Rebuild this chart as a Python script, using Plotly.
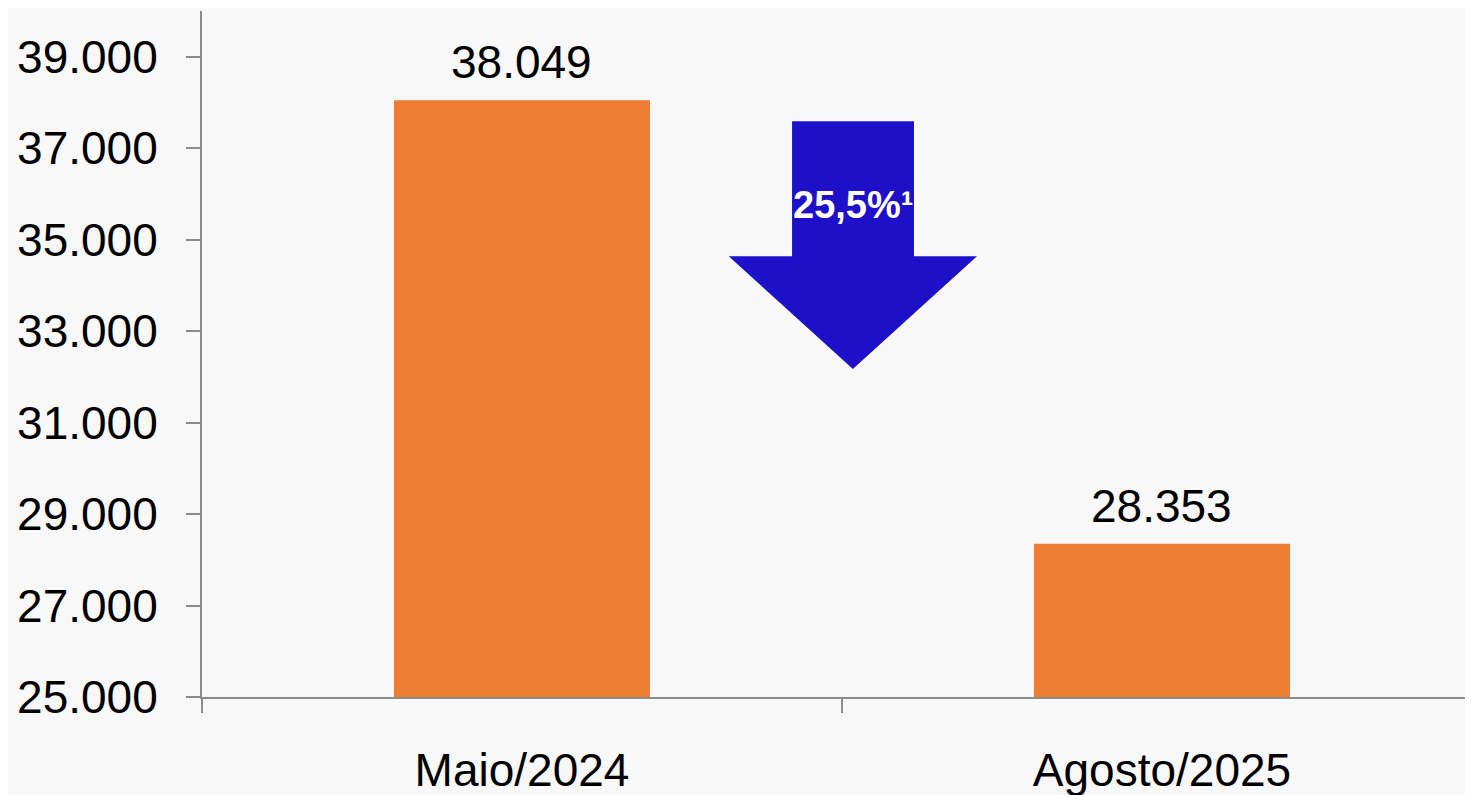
import plotly.graph_objects as go

# ---- data ----
categories = ["Maio/2024", "Agosto/2025"]
values = [38049, 28353]
y_tick_values = [25000, 27000, 29000, 31000, 33000, 35000, 37000, 39000]
change_label = "25,5%¹"

# ---- style ----
FONT = "Liberation Sans, Arial, sans-serif"
BAR_COLOR = "#ED7D31"
ARROW_COLOR = "#1E0FC8"
AXIS_COLOR = "#8C8C8C"
BG = "#F8F8F8"


def fmt(v):
    return f"{v:,}".replace(",", ".")


fig = go.Figure()
fig.add_trace(go.Bar(
    x=categories, y=values, width=0.4,
    marker=dict(color=BAR_COLOR, line=dict(width=0)),
    hoverinfo="skip",
))

# value labels above bars
for c, v in zip(categories, values):
    fig.add_annotation(
        x=c, y=v, text=fmt(v), showarrow=False,
        yanchor="bottom", yshift=10,
        font=dict(family=FONT, size=46, color="#000000"),
    )

# down arrow (decoration) between the bars, in axis coordinates
ax = dict(shaft_l=0.422, shaft_r=0.6125, head_l=0.323, head_r=0.711, tip=0.517)
ay = dict(top=37590, neck=34640, tip=32170)
path = (
    f"M {ax['shaft_l']} {ay['top']} L {ax['shaft_r']} {ay['top']} "
    f"L {ax['shaft_r']} {ay['neck']} L {ax['head_r']} {ay['neck']} "
    f"L {ax['tip']} {ay['tip']} L {ax['head_l']} {ay['neck']} "
    f"L {ax['shaft_l']} {ay['neck']} Z"
)
fig.add_shape(type="path", path=path, xref="x", yref="y",
              fillcolor=ARROW_COLOR, line=dict(width=0), layer="above")
fig.add_annotation(
    x=ax["tip"], y=35760, text=f"<b>{change_label}</b>", showarrow=False,
    xref="x", yref="y",
    font=dict(family=FONT, size=38, color="#FFFFFF"),
)

# the page body has an 8px margin; size the figure to fill the visible window
fig.update_layout(
    width=1465, height=787,
    margin=dict(l=194, r=0, t=3, b=98),
    paper_bgcolor=BG, plot_bgcolor=BG,
    separators=",.",
    showlegend=False,
    font=dict(family=FONT, size=46, color="#000000"),
    bargap=0.6,
)
fig.update_xaxes(
    type="category", range=[-0.5, 1.486],
    showline=True, linecolor=AXIS_COLOR, linewidth=2,
    ticks="outside", tickson="boundaries", ticklen=14, tickwidth=2,
    tickcolor=AXIS_COLOR, showgrid=False, zeroline=False,
    tickfont=dict(family=FONT, size=46, color="#000000"),
    ticklabelstandoff=32,
)
fig.update_yaxes(
    range=[25000, 40000],
    tickvals=y_tick_values, tickformat=",d",
    showline=True, linecolor=AXIS_COLOR, linewidth=2,
    ticks="outside", ticklen=14, tickwidth=2, tickcolor=AXIS_COLOR,
    showgrid=False, zeroline=False,
    tickfont=dict(family=FONT, size=46, color="#000000"),
    ticklabelstandoff=19,
)

fig.write_html("out.html")
